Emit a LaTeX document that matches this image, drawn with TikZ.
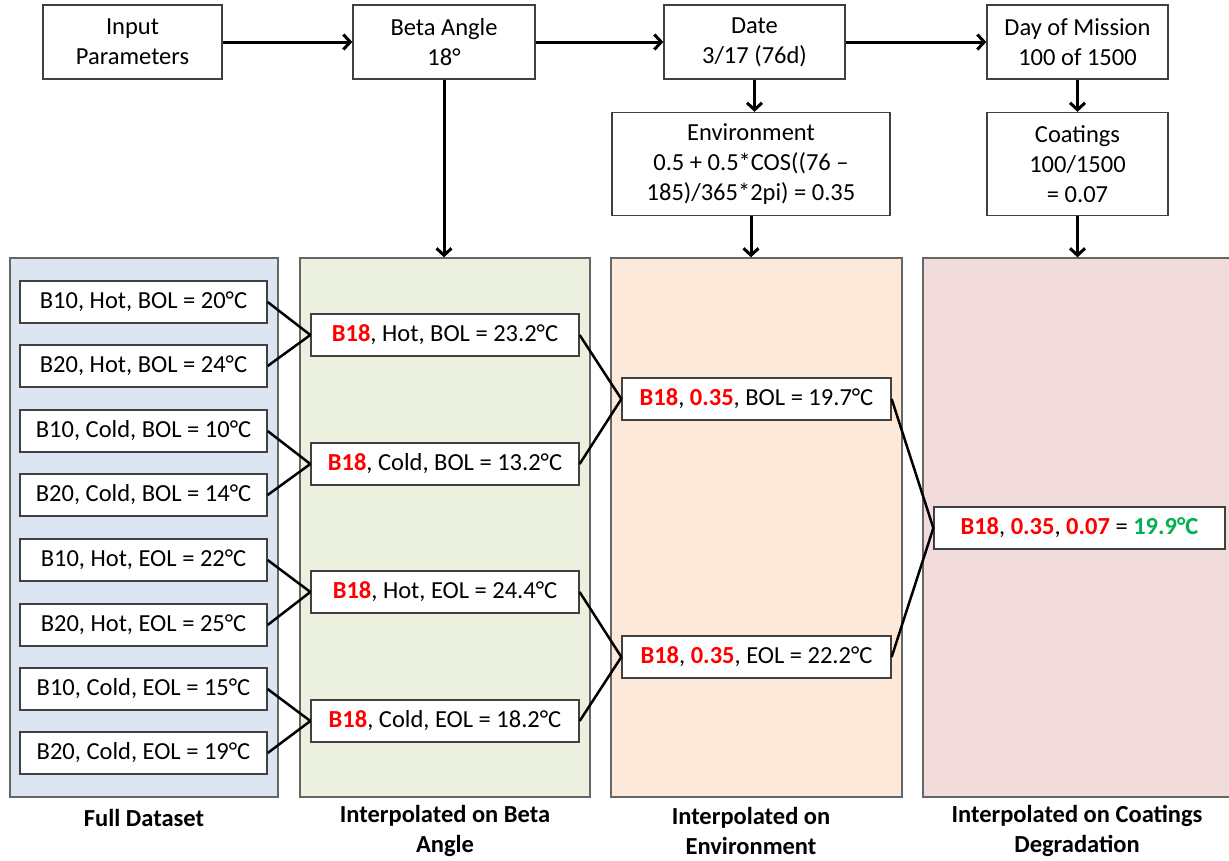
\documentclass[tikz,border=0pt]{standalone}
\usepackage{fontspec}
\setmainfont{Carlito}
\usetikzlibrary{arrows.meta}
\definecolor{pblue}{HTML}{DCE6F2}
\definecolor{pgreen}{HTML}{EBF1DE}
\definecolor{porange}{HTML}{FDE9D9}
\definecolor{ppink}{HTML}{F2DCDB}
\definecolor{rd}{HTML}{FF0000}
\definecolor{gr}{HTML}{00B050}
\definecolor{edge}{HTML}{404040}
\newcommand{\R}[1]{\textcolor{rd}{\textbf{#1}}}
\tikzset{
  topbox/.style={draw=edge, line width=1.3pt, fill=white, inner sep=0pt, align=center, minimum height=74pt, font=\fontsize{24.5}{30}\selectfont},
  panel/.style={draw=edge!80, line width=1.3pt, inner sep=0pt, minimum height=539pt},
  databox/.style={draw=edge, line width=1.3pt, fill=white, inner sep=0pt, minimum height=42pt, font=\fontsize{24.5}{30}\selectfont},
  arr/.style={line width=3pt, -{Straight Barb[length=7pt,width=15pt,line width=3pt]}},
  link/.style={line width=2.5pt},
  captext/.style={align=center, inner sep=0pt, font=\fontsize{24.5}{30}\selectfont\bfseries}
}
\begin{document}
\begin{tikzpicture}[x=1pt,y=-1pt]
\useasboundingbox (0,0) rectangle (1229,860);
% top row
\node[topbox, minimum width=179pt] (inp) at (132.5,42) {Input\\Parameters};
\node[topbox, minimum width=182pt] (beta) at (444,42) {Beta Angle\\18°};
\node[topbox, minimum width=181pt] (date) at (754.5,42) {Date\\3/17 (76d)};
\node[topbox, minimum width=181pt] (day) at (1077.5,42) {Day of Mission\\100 of 1500};
\node[topbox, minimum width=278pt, minimum height=103pt] (env) at (751,164) {Environment\\0.5 + 0.5*COS((76 –\\185)/365*2pi) = 0.35};
\node[topbox, minimum width=181pt, minimum height=103pt] (coat) at (1077.5,164) {Coatings\\100/1500\\= 0.07};
% panels
\node[panel, fill=pblue, minimum width=268pt] (p1) at (144,527.5) {};
\node[panel, fill=pgreen, minimum width=290pt] (p2) at (445,527.5) {};
\node[panel, fill=porange, minimum width=291pt] (p3) at (756.5,527.5) {};
\node[panel, fill=ppink, minimum width=314pt] (p4) at (1080,527.5) {};
% arrows
\draw[arr] (inp) -- (beta);
\draw[arr] (beta) -- (date);
\draw[arr] (date) -- (day);
\draw[arr] (date.south) -- (date.south |- env.north);
\draw[arr] (day.south) -- (day.south |- coat.north);
\draw[arr] (beta.south) -- (beta.south |- p2.north);
\draw[arr] (env.south) -- (env.south |- p3.north);
\draw[arr] (coat.south) -- (coat.south |- p4.north);
% panel 1 boxes
\node[databox, minimum width=247pt] (a1) at (143.5,302) {B10, Hot, BOL = 20°C};
\node[databox, minimum width=247pt] (a2) at (143.5,366) {B20, Hot, BOL = 24°C};
\node[databox, minimum width=247pt] (a3) at (143.5,431) {B10, Cold, BOL = 10°C};
\node[databox, minimum width=247pt] (a4) at (143.5,495) {B20, Cold, BOL = 14°C};
\node[databox, minimum width=247pt] (a5) at (143.5,560) {B10, Hot, EOL = 22°C};
\node[databox, minimum width=247pt] (a6) at (143.5,625) {B20, Hot, EOL = 25°C};
\node[databox, minimum width=247pt] (a7) at (143.5,689) {B10, Cold, EOL = 15°C};
\node[databox, minimum width=247pt] (a8) at (143.5,753) {B20, Cold, EOL = 19°C};
% panel 2 boxes
\node[databox, minimum width=268pt] (b1) at (445,335) {\R{B18}, Hot, BOL = 23.2°C};
\node[databox, minimum width=268pt] (b2) at (445,464) {\R{B18}, Cold, BOL = 13.2°C};
\node[databox, minimum width=268pt] (b3) at (445,592) {\R{B18}, Hot, EOL = 24.4°C};
\node[databox, minimum width=268pt] (b4) at (445,721) {\R{B18}, Cold, EOL = 18.2°C};
% panel 3 boxes
\node[databox, minimum width=269pt] (c1) at (756.5,399) {\R{B18}, \R{0.35}, BOL = 19.7°C};
\node[databox, minimum width=269pt] (c2) at (756.5,657) {\R{B18}, \R{0.35}, EOL = 22.2°C};
% panel 4 box
\node[databox, minimum width=291pt] (d1) at (1079.5,528) {\R{B18}, \R{0.35}, \R{0.07} = \textcolor{gr}{\textbf{19.9°C}}};
% links
\draw[link] (a1.east) -- (b1.west);
\draw[link] (a2.east) -- (b1.west);
\draw[link] (a3.east) -- (b2.west);
\draw[link] (a4.east) -- (b2.west);
\draw[link] (a5.east) -- (b3.west);
\draw[link] (a6.east) -- (b3.west);
\draw[link] (a7.east) -- (b4.west);
\draw[link] (a8.east) -- (b4.west);
\draw[link] (b1.east) -- (c1.west);
\draw[link] (b2.east) -- (c1.west);
\draw[link] (b3.east) -- (c2.west);
\draw[link] (b4.east) -- (c2.west);
\draw[link] (c1.east) -- (d1.west);
\draw[link] (c2.east) -- (d1.west);
% captions
\node[captext] (l1) at (144,818) {Full Dataset};
\node[captext] (l2) at (445,831) {Interpolated on Beta\\Angle};
\node[captext] (l3) at (751,831) {Interpolated on\\Environment};
\node[captext] (l4) at (1077,831) {Interpolated on Coatings\\Degradation};
\end{tikzpicture}
\end{document}
